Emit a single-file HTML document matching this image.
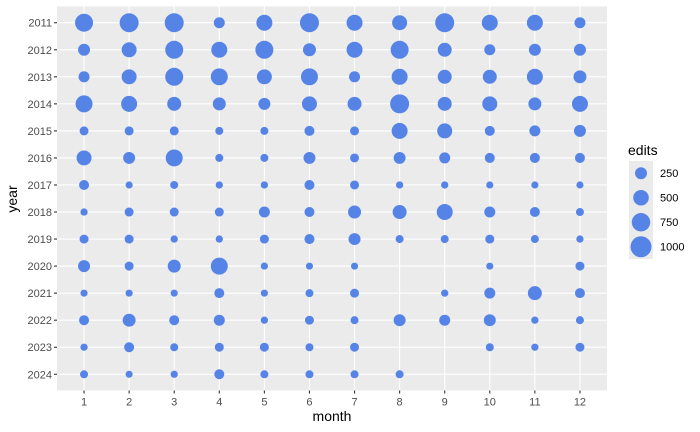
<!DOCTYPE html>
<html><head><meta charset="utf-8"><style>
body{margin:0;background:#fff;}
svg{display:block;font-family:"Liberation Sans",sans-serif;}
</style></head><body>
<svg id="chart" width="700" height="432">
<rect x="57" y="6.5" width="550" height="384" fill="#ebebeb"/>
<g id="grid"></g><g id="pts"></g><g id="axes"></g>
<text x="332" y="421" font-size="14" text-anchor="middle" fill="#000">month</text>
<text transform="translate(17,199) rotate(-90)" font-size="14" text-anchor="middle" fill="#000">year</text>
<text x="628" y="155" font-size="14" fill="#000">edits</text>
<g id="legend"></g>
</svg>
<script>
const months=[1,2,3,4,5,6,7,8,9,10,11,12];
const years=[2011,2012,2013,2014,2015,2016,2017,2018,2019,2020,2021,2022,2023,2024];
const edits2011=[706,800,800,192,534,800,534,455,800,534,534,192];
const edits2012=[250,455,706,534,706,313,534,706,382,192,250,250];
const edits2013=[192,455,706,617,455,617,192,534,382,382,534,313];
const edits2014=[617,534,382,313,250,455,382,800,382,455,313,534];
const edits2015=[90,90,90,48,48,139,90,534,455,139,192,250];
const edits2016=[455,250,617,48,48,250,90,250,192,139,139,139];
const edits2017=[139,15,48,20,20,139,90,20,20,15,15,15];
const edits2018=[20,90,90,90,192,139,313,382,534,192,139,48];
const edits2019=[90,90,20,20,90,139,250,48,48,90,48,20];
const edits2020=[250,90,313,617,15,12,12,null,null,12,null,90];
const edits2021=[15,15,15,139,15,48,90,null,20,192,382,139];
const edits2022=[139,313,139,192,20,90,48,250,192,250,20,48];
const edits2023=[20,139,48,90,90,48,90,null,null,48,20,90];
const edits2024=[48,12,20,139,48,48,48,48,null,null,null,null];
const editsByYear=[edits2011,edits2012,edits2013,edits2014,edits2015,edits2016,edits2017,edits2018,edits2019,edits2020,edits2021,edits2022,edits2023,edits2024];
const legendValues=[250,500,750,1000];

const NS="http://www.w3.org/2000/svg";
const L=57,R=607,T=6.5,B=390.5;
const xs=(R-L)/(months.length-1+1.2), ys=(B-T)/(years.length-1+1.2);
const xPos=i=>L+xs*(0.6+i);
const yPos=j=>T+ys*(0.6+j);
const rad=v=>Math.sqrt(Math.max(0,11.3+0.0987*v));
const col="#5684e6";
function mk(tag,attrs,parent){const e=document.createElementNS(NS,tag);for(const k in attrs)e.setAttribute(k,attrs[k]);parent.appendChild(e);return e;}
const grid=document.getElementById('grid'),pts=document.getElementById('pts'),axes=document.getElementById('axes'),leg=document.getElementById('legend');
months.forEach((m,i)=>{
  const x=xPos(i);
  const g=mk('line',{x1:x,x2:x,y1:T,y2:B,stroke:'#fff','stroke-width':1.1},grid);
  
  
  const t=mk('line',{x1:x,x2:x,y1:B,y2:B+3,stroke:'#333','stroke-width':1.1},axes);
  
  
  const l=mk('text',{x:x,y:B+15,'font-size':11,'text-anchor':'middle',fill:'#4d4d4d'},axes);
  l.textContent=m;
  
  
});
years.forEach((yr,j)=>{
  const y=yPos(j);
  const g=mk('line',{x1:L,x2:R,y1:y,y2:y,stroke:'#fff','stroke-width':1.1},grid);
  
  
  const t=mk('line',{x1:L-3,x2:L,y1:y,y2:y,stroke:'#333','stroke-width':1.1},axes);
  
  
  const l=mk('text',{x:L-5,y:y+4,'font-size':11,'text-anchor':'end',fill:'#4d4d4d'},axes);
  l.textContent=yr;
  
  
  editsByYear[j].forEach((v,i)=>{
    if(v===null)return;
    const c=mk('circle',{cx:xPos(i),cy:y,r:rad(v),fill:col},pts);
    
    
  });
});
legendValues.forEach((v,k)=>{
  const y0=161+k*24.5;
  const b=mk('rect',{x:629,y:y0,width:24,height:24.5,fill:'#ebebeb'},leg);
  
  
  const c=mk('circle',{cx:641,cy:y0+12.25,r:rad(v),fill:col},leg);
  
  
  const t=mk('text',{x:660,y:y0+16,'font-size':11,fill:'#000'},leg);
  t.textContent=v;
  
  
});
</script>
</body></html>
